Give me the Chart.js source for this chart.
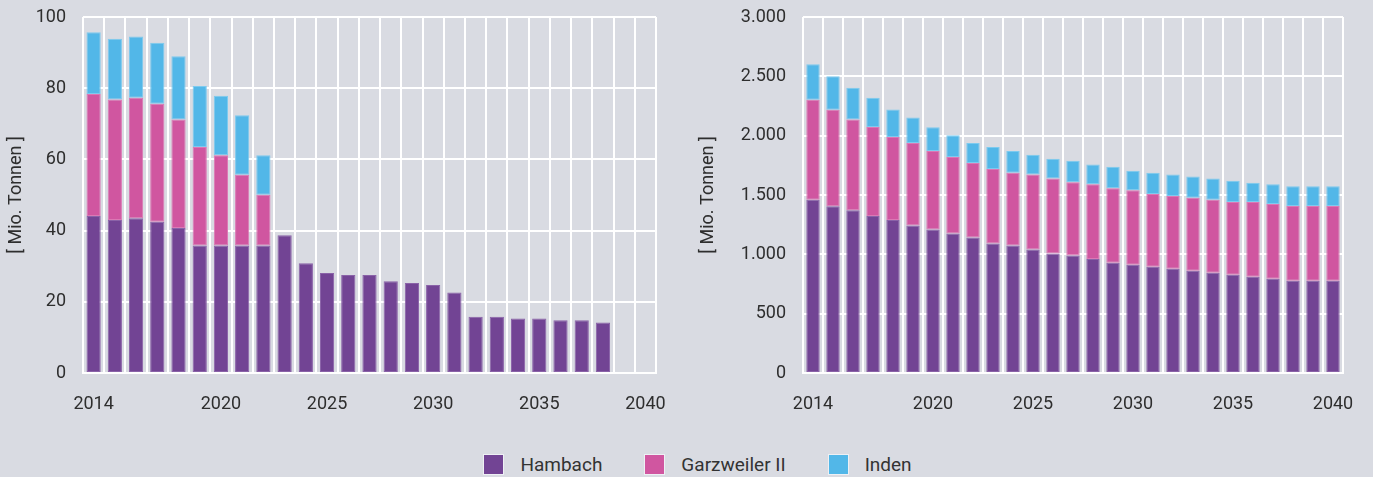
<!DOCTYPE html>
<html lang="de">
<head>
<meta charset="utf-8">
<script src="https://cdn.jsdelivr.net/npm/chart.js@4/dist/chart.umd.min.js"></script>
<style>
  html, body { margin: 0; padding: 0; background: #d9dbe2; }
  body { width: 1373px; height: 477px; position: relative; overflow: hidden;
         font-family: Roboto, 'Open Sans', sans-serif; color: #333; }
  .box { position: absolute; top: 0; height: 420px; }
  #links  { left: 0;     width: 670px; }
  #rechts { left: 690px; width: 683px; }
  #legende { position: absolute; top: 454px; left: 0; width: 1373px; display: flex;
             justify-content: center; padding-left: 22px; box-sizing: border-box; }
  .item { display: flex; align-items: center; margin: 0 21px; font-size: 19px; line-height: 21px; }
  .item span { display: inline-block; width: 21px; height: 21px; margin-right: 16px;
               border: 1px solid #eef0f4; box-sizing: border-box; }
</style>
</head>
<body>
<div class="box" id="links"><canvas id="chartFoerderung"></canvas></div>
<div class="box" id="rechts"><canvas id="chartVorrat"></canvas></div>
<div id="legende"></div>
<script>
'use strict';

// Jahre 2014..2040
const JAHRE = [2014, 2015, 2016, 2017, 2018, 2019, 2020, 2021, 2022, 2023, 2024, 2025, 2026,
               2027, 2028, 2029, 2030, 2031, 2032, 2033, 2034, 2035, 2036, 2037, 2038, 2039, 2040];
// nur diese Jahre bekommen eine Beschriftung
const X_BESCHRIFTUNG = [2014, 2020, 2025, 2030, 2035, 2040];

const TAGEBAUE = ['Hambach', 'Garzweiler II', 'Inden'];
const FARBEN   = ['#724494', '#d056a0', '#52b7e8'];
const RAND     = ['#8a62a8', '#dc78b4', '#7ccaef'];

// Förderung pro Jahr [Mio. Tonnen]
const FOERD_HAMBACH = [44.1, 43.0, 43.5, 42.5, 40.7, 35.8, 35.8, 35.8, 35.8, 38.7, 30.8, 28.1, 27.5,
                       27.5, 25.8, 25.3, 24.7, 22.6, 15.8, 15.8, 15.3, 15.3, 14.8, 14.8, 14.2, null, null];
const FOERD_GARZ    = [34.3, 33.8, 33.8, 33.1, 30.5, 27.7, 25.4, 19.9, 14.3];
const FOERD_INDEN   = [17.3, 17.1, 17.2, 17.2, 17.8, 17.1, 16.7, 16.7, 11.1];

// Vorrat [Mio. Tonnen]
const VORRAT_HAMBACH = [1459, 1406, 1372, 1324, 1290, 1243, 1209, 1176, 1142, 1091, 1075, 1041, 1007,
                        990, 960, 929, 912, 895, 879, 862, 845, 828, 811, 795, 778, 778, 778];
const VORRAT_GARZ    = [843, 812, 765, 749, 699, 695, 662, 644, 628, 629, 613, 631, 631,
                        618, 631, 628, 628, 614, 613, 614, 614, 614, 631, 630, 630, 630, 630];
const VORRAT_INDEN   = [300, 283, 266, 246, 232, 216, 199, 183, 168, 185, 183, 168, 168,
                        181, 165, 182, 165, 179, 180, 179, 179, 179, 162, 166, 166, 166, 166];

const Y_TICKS_LINKS  = { max: 100, step: 20 };
const Y_TICKS_RECHTS = { max: 3000, step: 500 };

const TEXT = '#2e2e2e';
const GRID = '#ffffff';

Chart.defaults.font.family = "Roboto, 'Open Sans', sans-serif";
Chart.defaults.color = TEXT;

const punkt = (v) => String(v).replace(/\B(?=(\d{3})+(?!\d))/g, '.');

function datasets(reihen) {
  return reihen.map((d, i) => ({
    label: TAGEBAUE[i],
    data: d,
    backgroundColor: FARBEN[i],
    borderColor: RAND[i],
    borderWidth: 1,
    borderSkipped: false,
    barPercentage: 0.67,
    categoryPercentage: 1,
  }));
}

function baueChart(id, reihen, yTicks, yBreite, padRechts, titelPad) {
  return new Chart(document.getElementById(id), {
    type: 'bar',
    data: { labels: JAHRE, datasets: datasets(reihen) },
    options: {
      responsive: true, maintainAspectRatio: false, animation: false,
      layout: { padding: { top: 17, right: padRechts, left: 0, bottom: 0 } },
      plugins: { legend: { display: false }, tooltip: { enabled: false } },
      scales: {
        x: {
          stacked: true,
          grid: { color: GRID, lineWidth: 2, drawTicks: false, offset: true },
          border: { color: GRID, width: 2 },
          ticks: {
            autoSkip: false, maxRotation: 0, padding: 21, font: { size: 18 },
            callback: function (v) {
              const j = this.getLabelForValue(v);
              return X_BESCHRIFTUNG.includes(j) ? String(j) : '';
            },
          },
          afterFit: (s) => { s.height = 47; s.paddingLeft = 0; s.paddingRight = 0; },
        },
        y: {
          stacked: true, min: 0, max: yTicks.max,
          grid: { color: GRID, lineWidth: 2, drawTicks: false },
          border: { display: false },
          ticks: { stepSize: yTicks.step, padding: 17, font: { size: 18 }, callback: (v) => punkt(v) },
          title: { display: true, text: '[ Mio. Tonnen ]', font: { size: 18 }, padding: { top: titelPad, bottom: 0 } },
          afterFit: (s) => { s.width = yBreite; s.paddingTop = 0; s.paddingBottom = 0; },
        },
      },
    },
  });
}

baueChart('chartFoerderung', [FOERD_HAMBACH, FOERD_GARZ, FOERD_INDEN], Y_TICKS_LINKS, 83, 14, 6);
baueChart('chartVorrat', [VORRAT_HAMBACH, VORRAT_GARZ, VORRAT_INDEN], Y_TICKS_RECHTS, 113, 30, 8);

// Legende
const leg = document.getElementById('legende');
TAGEBAUE.forEach((name, i) => {
  const el = document.createElement('div');
  el.className = 'item';
  el.innerHTML = '<span style="background:' + FARBEN[i] + '"></span>' + name;
  leg.appendChild(el);
});
</script>
</body>
</html>
